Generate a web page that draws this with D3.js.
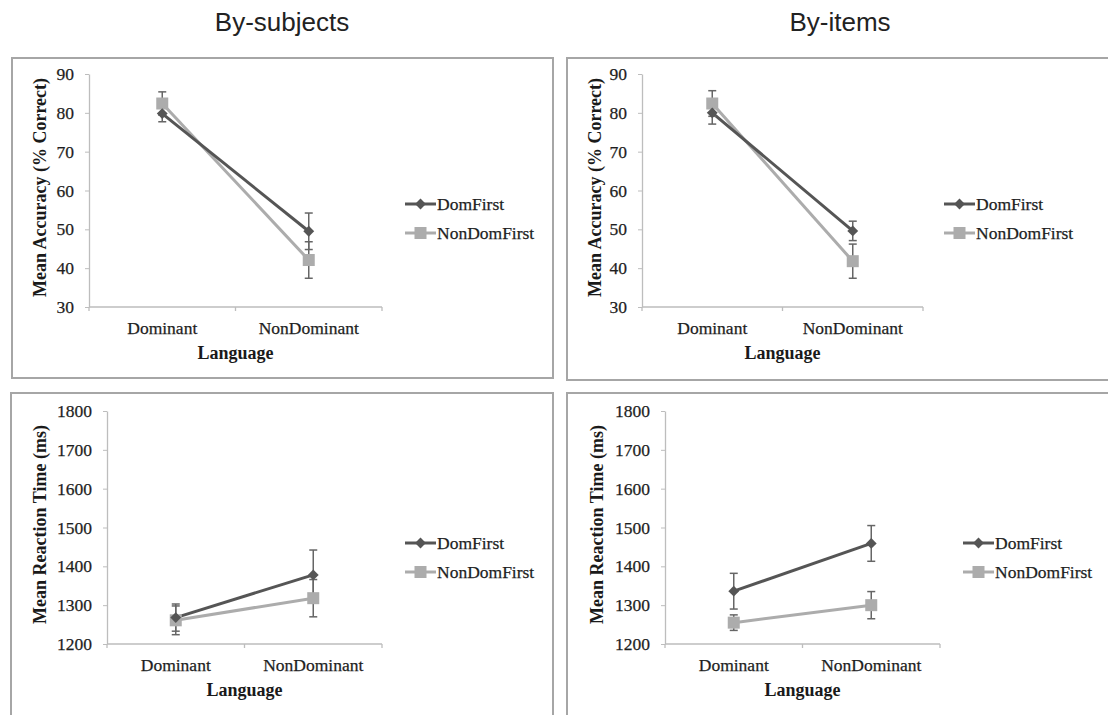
<!DOCTYPE html>
<html>
<head>
<meta charset="utf-8">
<script src="https://cdn.jsdelivr.net/npm/d3@7"></script>
<style>
  html, body { margin: 0; padding: 0; background: #fff; }
  svg { display: block; }
</style>
</head>
<body>
<svg id="chart" width="1108" height="715"></svg>
<script>
// ---------------- data ----------------
const categories = ["Dominant", "NonDominant"];
const seriesNames = ["DomFirst", "NonDomFirst"];
const columnTitles = ["By-subjects", "By-items"];

const accTicks = [30, 40, 50, 60, 70, 80, 90];
const rtTicks = [1200, 1300, 1400, 1500, 1600, 1700, 1800];

// Accuracy, by-subjects
const accSubjDomFirst = [79.8, 49.5];
const accSubjDomFirstErr = [2.1, 4.7];
const accSubjNonDomFirst = [82.4, 42.1];
const accSubjNonDomFirstErr = [3.0, 4.7];

// Accuracy, by-items
const accItemDomFirst = [80.0, 49.6];
const accItemDomFirstErr = [2.9, 2.5];
const accItemNonDomFirst = [82.4, 41.8];
const accItemNonDomFirstErr = [3.3, 4.4];

// Reaction time, by-subjects
const rtSubjDomFirst = [1268, 1378];
const rtSubjDomFirstErr = [35, 64];
const rtSubjNonDomFirst = [1261, 1318];
const rtSubjNonDomFirstErr = [37, 48];

// Reaction time, by-items
const rtItemDomFirst = [1336, 1459];
const rtItemDomFirstErr = [46, 46];
const rtItemNonDomFirst = [1255, 1300];
const rtItemNonDomFirstErr = [20, 35];

// ---------------- layout / style ----------------
const serif = "'Liberation Serif', 'Times New Roman', serif";
const sans = "'Liberation Sans', Arial, sans-serif";
const colors = { DomFirst: "#555555", NonDomFirst: "#acacac" };
const textColor = "#1e1e1e";

const panels = [
  { box: [12, 58, 541, 320], plot: [89, 74, 382, 307], ticks: accTicks, title: "Mean Accuracy (% Correct)", titleX: 42,
    legend: [405, 204, 233],
    series: [
      { name: "NonDomFirst", values: accSubjNonDomFirst, err: accSubjNonDomFirstErr },
      { name: "DomFirst", values: accSubjDomFirst, err: accSubjDomFirstErr } ] },
  { box: [567, 58, 560, 322], plot: [642, 74, 923, 307], ticks: accTicks, title: "Mean Accuracy (% Correct)", titleX: 597,
    legend: [944, 204, 233],
    series: [
      { name: "NonDomFirst", values: accItemNonDomFirst, err: accItemNonDomFirstErr },
      { name: "DomFirst", values: accItemDomFirst, err: accItemDomFirstErr } ] },
  { box: [11, 393, 542, 340], plot: [107, 411, 382, 644], ticks: rtTicks, title: "Mean Reaction Time (ms)", titleX: 42,
    legend: [405, 543, 572],
    series: [
      { name: "NonDomFirst", values: rtSubjNonDomFirst, err: rtSubjNonDomFirstErr },
      { name: "DomFirst", values: rtSubjDomFirst, err: rtSubjDomFirstErr } ] },
  { box: [567, 393, 560, 340], plot: [665, 411, 940, 644], ticks: rtTicks, title: "Mean Reaction Time (ms)", titleX: 599,
    legend: [963, 543, 572],
    series: [
      { name: "NonDomFirst", values: rtItemNonDomFirst, err: rtItemNonDomFirstErr },
      { name: "DomFirst", values: rtItemDomFirst, err: rtItemDomFirstErr } ] }
];

const svg = d3.select("#chart");

// Column titles
const titleX = [282, 840];
columnTitles.forEach((t, i) => {
  svg.append("text")
    .attr("x", titleX[i]).attr("y", 31)
    .attr("text-anchor", "middle")
    .attr("font-family", sans).attr("font-size", 26)
    .attr("fill", "#222")
    .text(t);
});

const diamond = d3.symbol().type(d3.symbolDiamond2).size(75);

function marker(g, name, x, y) {
  if (name === "DomFirst") {
    g.append("path").attr("d", diamond()).attr("transform", `translate(${x},${y})`)
      .attr("fill", colors.DomFirst);
  } else {
    g.append("rect").attr("x", x - 6).attr("y", y - 6).attr("width", 12).attr("height", 12)
      .attr("fill", colors.NonDomFirst);
  }
}

panels.forEach(p => {
  const [bx, by, bw, bh] = p.box;
  const [x0, y0, x1, y1] = p.plot;

  svg.append("rect")
    .attr("x", bx).attr("y", by).attr("width", bw).attr("height", bh)
    .attr("fill", "none").attr("stroke", "#a6a6a6").attr("stroke-width", 2);

  const y = d3.scaleLinear().domain(d3.extent(p.ticks)).range([y1, y0]);
  const xb = d3.scaleBand().domain(categories).range([x0, x1]);
  const xc = c => xb(c) + xb.bandwidth() / 2;

  // y axis
  const yAxis = d3.axisLeft(y).tickValues(p.ticks).tickFormat(d3.format("d"))
    .tickSize(4).tickSizeOuter(0).tickPadding(11);
  const ga = svg.append("g").attr("transform", `translate(${x0},0)`).call(yAxis);
  ga.select(".domain").attr("stroke", "#bdbdbd").attr("stroke-width", 1.3);
  ga.selectAll(".tick line").attr("stroke", "#bdbdbd");
  ga.selectAll(".tick text").attr("font-family", serif).attr("font-size", 17.5)
    .attr("fill", textColor).attr("stroke", textColor).attr("stroke-width", 0.25);

  // x axis (line + category-boundary ticks)
  const gx = svg.append("g");
  gx.append("line").attr("x1", x0).attr("x2", x1).attr("y1", y1).attr("y2", y1)
    .attr("stroke", "#bdbdbd").attr("stroke-width", 1.3);
  const bounds = categories.map(c => xb(c)).concat([xb(categories[categories.length - 1]) + xb.bandwidth()]);
  gx.selectAll(".bt").data(bounds).join("line")
    .attr("x1", d => d).attr("x2", d => d).attr("y1", y1).attr("y2", y1 + 4)
    .attr("stroke", "#bdbdbd").attr("stroke-width", 1.3);
  gx.selectAll(".cl").data(categories).join("text")
    .attr("x", d => xc(d)).attr("y", y1 + 27)
    .attr("text-anchor", "middle")
    .attr("font-family", serif).attr("font-size", 17.5)
    .attr("fill", textColor).attr("stroke", textColor).attr("stroke-width", 0.25)
    .text(d => d);
  gx.append("text")
    .attr("x", (x0 + x1) / 2).attr("y", y1 + 52)
    .attr("text-anchor", "middle")
    .attr("font-family", serif).attr("font-size", 18).attr("font-weight", "bold").attr("fill", "#1a1a1a")
    .text("Language");

  // y title
  svg.append("text")
    .attr("transform", `translate(${p.titleX},${(y0 + y1) / 2 - 3}) rotate(-90)`)
    .attr("text-anchor", "middle").attr("dominant-baseline", "middle")
    .attr("font-family", serif).attr("font-size", 18).attr("font-weight", "bold").attr("fill", "#1a1a1a")
    .text(p.title);

  const line = d3.line().x((d, i) => xc(categories[i])).y(d => y(d));

  p.series.forEach(s => {
    svg.append("path").datum(s.values).attr("d", line)
      .attr("fill", "none").attr("stroke", colors[s.name]).attr("stroke-width", 3);
  });
  p.series.forEach(s => {
    const g = svg.append("g");
    s.values.forEach((v, i) => {
      const cx = xc(categories[i]);
      const top = y(v + s.err[i]), bot = y(v - s.err[i]);
      g.append("line").attr("x1", cx).attr("x2", cx).attr("y1", top).attr("y2", bot)
        .attr("stroke", "#666").attr("stroke-width", 1.5);
      [top, bot].forEach(yy => g.append("line")
        .attr("x1", cx - 4).attr("x2", cx + 4).attr("y1", yy).attr("y2", yy)
        .attr("stroke", "#666").attr("stroke-width", 1.5));
    });
  });
  p.series.forEach(s => {
    const g = svg.append("g");
    s.values.forEach((v, i) => marker(g, s.name, xc(categories[i]), y(v)));
  });

  // legend
  const [lx, ly1, ly2] = p.legend;
  seriesNames.forEach((name, i) => {
    const ly = i === 0 ? ly1 : ly2;
    const g = svg.append("g");
    g.append("line").attr("x1", lx).attr("x2", lx + 31).attr("y1", ly).attr("y2", ly)
      .attr("stroke", colors[name]).attr("stroke-width", 3);
    marker(g, name, lx + 15.5, ly);
    g.append("text").attr("x", lx + 32).attr("y", ly + 6)
      .attr("font-family", serif).attr("font-size", 17.5)
      .attr("fill", textColor).attr("stroke", textColor).attr("stroke-width", 0.25)
      .text(name);
  });
});
</script>
</body>
</html>
